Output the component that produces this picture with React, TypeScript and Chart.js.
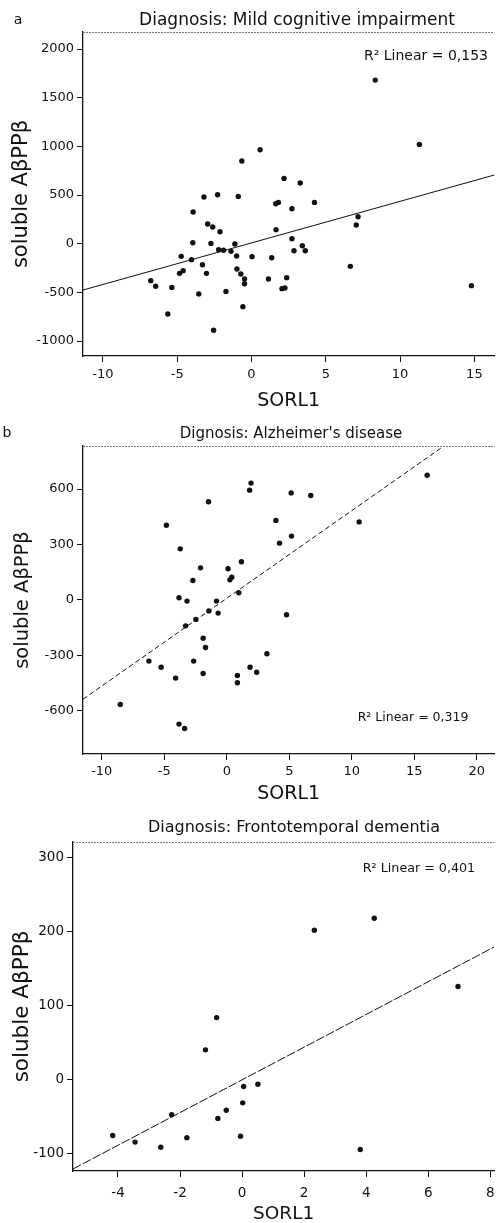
import React, { useEffect, useRef } from "react";
import { Chart, registerables } from "chart.js";
Chart.register(...registerables);

const FONT = "'DejaVu Sans', 'Liberation Sans', sans-serif";
const INK = "#111111";

// ---- Panel a: Mild cognitive impairment ----
const MCI_SORL1 = [8.33, 11.3, -0.65, 0.58, 2.19, 3.28, -3.2, -2.28, -0.89, -3.93, -2.95, -2.61, -2.12, -3.95, -2.73, -2.21, -1.88, -1.38, -1.12, -1.0, -0.98, -0.72, -0.47, -0.47, -0.58, 0.04, 1.63, 1.81, 1.65, 1.36, 1.14, 2.05, 2.25, 2.37, 2.72, 2.72, 2.86, 3.42, 3.62, 4.24, 6.65, 7.05, 7.17, 14.8, -4.73, -4.04, -3.3, -3.03, -4.84, -4.6, -6.78, -6.45, -5.36, -3.55, -1.72, -5.63, -2.55];
const MCI_ABPP = [1681, 1020, 849, 965, 671, 623, 480, 503, 486, 325, 202, 171, 123, 10, 3, -62, -68, -79, -3, -127, -260, -311, -363, -411, -647, -133, 411, 424, 144, -144, -363, -462, -456, -349, 359, 51, -72, -21, -72, 424, -233, 192, 277, -431, -130, -164, -216, -305, -305, -277, -380, -438, -449, -516, -490, -722, -890];
const MCI_FIT = [8, 42.7]; // intercept, slope
const MCI_XTICKS = [-10, -5, 0, 5, 10, 15];
const MCI_YTICKS = [-1000, -500, 0, 500, 1000, 1500, 2000];
const MCI_R2 = "R\u00B2 Linear = 0,153";
const MCI_TITLE = "Diagnosis: Mild cognitive impairment";

// ---- Panel b: Alzheimer's disease ----
const AD_SORL1 = [-4.83, -3.72, -1.46, 1.94, 1.83, 5.15, 6.72, 16.03, 3.93, 4.22, 5.18, 10.59, -2.1, -2.71, 0.1, 1.17, 0.25, 0.4, 0.96, -3.82, -3.18, -0.82, -1.43, -0.69, -2.47, -3.29, 4.78, -1.89, -1.7, 3.21, -6.23, -2.65, -5.25, 1.86, 2.39, -1.89, -4.09, 0.85, 0.85, -8.52, -3.82, -3.37];
const AD_ABPP = [404, 276, 531, 632, 594, 579, 565, 675, 430, 307, 345, 422, 173, 105, 168, 206, 108, 122, 38, 11, -7, -7, -60, -72, -106, -141, -81, -208, -258, -292, -332, -332, -365, -365, -392, -399, -424, -410, -449, -567, -673, -697];
const AD_FIT = [8, 47.5];
const AD_XTICKS = [-10, -5, 0, 5, 10, 15, 20];
const AD_YTICKS = [-600, -300, 0, 300, 600];
const AD_R2 = "R\u00B2 Linear = 0,319";
const AD_TITLE = "Dignosis: Alzheimer's disease";

// ---- Panel c: Frontotemporal dementia ----
const FTD_SORL1 = [2.33, 4.26, 6.96, -0.82, -1.18, 0.05, 0.51, 0.02, -0.51, -0.78, -2.27, -4.17, -3.45, -2.62, -1.78, -0.05, 3.81];
const FTD_ABPP = [202, 218, 126, 84, 40.5, -9, -6, -31, -41, -52, -47, -75, -84, -91, -78, -76, -94];
const FTD_FIT = [0, 22.07];
const FTD_XTICKS = [-4, -2, 0, 2, 4, 6, 8];
const FTD_YTICKS = [-100, 0, 100, 200, 300];
const FTD_R2 = "R\u00B2 Linear = 0,401";
const FTD_TITLE = "Diagnosis: Frontotemporal dementia";

const X_TITLE = "SORL1";
const Y_TITLE = "soluble A\u03B2PP\u03B2";

type Spec = {
  top: number; height: number; padTop: number; yAxisW: number; xAxisH: number;
  xs: number[]; ys: number[]; fit: number[]; xTicks: number[]; yTicks: number[];
  xMin: number; xMax: number; yMin: number; yMax: number;
  dash: number[];
  title: string; titleX: number; titleY: number; titleSize: number;
  letter?: string; letterX?: number; letterY?: number;
  r2: string; r2X: number; r2Y: number; r2Size: number;
  yTitleSize: number; yTitlePad: number; xTitleSize: number; xTitlePad: number;
  tickSize: number; xTickPad: number;
};

const PANELS: Spec[] = [
  {
    top: 0, height: 414, padTop: 32, yAxisW: 83, xAxisH: 58,
    xs: MCI_SORL1, ys: MCI_ABPP, fit: MCI_FIT, xTicks: MCI_XTICKS, yTicks: MCI_YTICKS,
    xMin: -11.34, xMax: 16.34, yMin: -1154, yMax: 2175,
    dash: [],
    title: MCI_TITLE, titleX: 297, titleY: 21, titleSize: 17,
    letter: "a", letterX: 18, letterY: 20,
    r2: MCI_R2, r2X: 426, r2Y: 56, r2Size: 14,
    yTitleSize: 21, yTitlePad: 9.4, xTitleSize: 19, xTitlePad: 1.6, tickSize: 13, xTickPad: 5,
  },
  {
    top: 414, height: 393, padTop: 32, yAxisW: 83, xAxisH: 53,
    xs: AD_SORL1, ys: AD_ABPP, fit: AD_FIT, xTicks: AD_XTICKS, yTicks: AD_YTICKS,
    xMin: -11.5, xMax: 21.4, yMin: -835, yMax: 833,
    dash: [5, 3],
    title: AD_TITLE, titleX: 291, titleY: 20, titleSize: 15,
    letter: "b", letterX: 7, letterY: 19,
    r2: AD_R2, r2X: 413, r2Y: 304, r2Size: 12.5,
    yTitleSize: 19.5, yTitlePad: 10.8, xTitleSize: 19, xTitlePad: 1.6, tickSize: 13, xTickPad: 4,
  },
  {
    top: 807, height: 419, padTop: 35, yAxisW: 73, xAxisH: 55,
    xs: FTD_SORL1, ys: FTD_ABPP, fit: FTD_FIT, xTicks: FTD_XTICKS, yTicks: FTD_YTICKS,
    xMin: -5.45, xMax: 8.13, yMin: -123, yMax: 321,
    dash: [9, 2],
    title: FTD_TITLE, titleX: 294, titleY: 21, titleSize: 16,
    r2: FTD_R2, r2X: 419, r2Y: 62, r2Size: 12.7,
    yTitleSize: 21.5, yTitlePad: 9.6, xTitleSize: 18.5, xTitlePad: 0.9, tickSize: 13.5, xTickPad: 8,
  },
];

function Panel({ spec }: { spec: Spec }) {
  const ref = useRef<HTMLCanvasElement | null>(null);
  useEffect(() => {
    const canvas = ref.current;
    if (!canvas) return;
    const s = spec;
    const points = s.xs.map((x, i) => ({ x, y: s.ys[i] }));
    const fitLine = [s.xMin, s.xMax].map((x) => ({ x, y: s.fit[0] + s.fit[1] * x }));

    const annot = {
      id: "annot",
      afterDraw(chart: any) {
        const { ctx, chartArea } = chart;
        ctx.save();
        ctx.strokeStyle = "#777";
        ctx.lineWidth = 1;
        ctx.setLineDash([2, 1]);
        ctx.beginPath();
        ctx.moveTo(chartArea.left, chartArea.top + 0.5);
        ctx.lineTo(chartArea.right, chartArea.top + 0.5);
        ctx.stroke();
        ctx.setLineDash([]);
        ctx.fillStyle = INK;
        ctx.textBaseline = "middle";
        ctx.textAlign = "center";
        ctx.font = `${s.titleSize}px ${FONT}`;
        ctx.fillText(s.title, s.titleX, s.titleY);
        ctx.font = `${s.r2Size}px ${FONT}`;
        ctx.fillText(s.r2, s.r2X, s.r2Y);
        if (s.letter) {
          ctx.font = `14px ${FONT}`;
          ctx.fillText(s.letter, s.letterX, s.letterY);
        }
        ctx.restore();
      },
    };

    const tickFmt = (v: any) => String(v);

    const chart = new Chart(canvas, {
      type: "scatter",
      data: {
        datasets: [
          {
            type: "scatter",
            data: points,
            backgroundColor: INK,
            borderWidth: 0,
            pointRadius: 2.7,
            pointHoverRadius: 2.7,
          },
          {
            type: "line",
            data: fitLine,
            borderColor: INK,
            borderWidth: 1,
            borderDash: s.dash,
            pointRadius: 0,
            fill: false,
            tension: 0,
          } as any,
        ],
      },
      options: {
        responsive: false,
        animation: false,
        devicePixelRatio: 1,
        layout: { padding: { top: s.padTop, left: 0, right: 0, bottom: 0 } },
        plugins: { legend: { display: false }, tooltip: { enabled: false }, title: { display: false } },
        scales: {
          x: {
            type: "linear",
            min: s.xMin,
            max: s.xMax,
            afterBuildTicks: (sc: any) => { sc.ticks = s.xTicks.map((v) => ({ value: v })); },
            ticks: {
              autoSkip: false, maxRotation: 0,
              color: INK, font: { family: FONT, size: s.tickSize }, padding: s.xTickPad, callback: tickFmt,
            },
            grid: { drawOnChartArea: false, drawTicks: true, tickLength: 6, color: INK, lineWidth: 1 },
            border: { display: true, color: INK, width: 1.3 },
            title: {
              display: true, text: X_TITLE, color: INK,
              font: { family: FONT, size: s.xTitleSize }, padding: { top: 0, bottom: s.xTitlePad },
            },
            afterFit: (sc: any) => {
              sc.height = s.xAxisH;
              sc.paddingLeft = 0; sc.paddingRight = 0; sc.paddingTop = 0; sc.paddingBottom = 0;
            },
          },
          y: {
            type: "linear",
            min: s.yMin,
            max: s.yMax,
            afterBuildTicks: (sc: any) => { sc.ticks = s.yTicks.map((v) => ({ value: v })); },
            ticks: {
              autoSkip: false,
              color: INK, font: { family: FONT, size: s.tickSize }, padding: 3, callback: tickFmt,
            },
            grid: { drawOnChartArea: false, drawTicks: true, tickLength: 6, color: INK, lineWidth: 1 },
            border: { display: true, color: INK, width: 1.3 },
            title: {
              display: true, text: Y_TITLE, color: INK,
              font: { family: FONT, size: s.yTitleSize }, padding: { top: s.yTitlePad, bottom: 0 },
            },
            afterFit: (sc: any) => {
              sc.width = s.yAxisW;
              sc.paddingLeft = 0; sc.paddingRight = 0; sc.paddingTop = 0; sc.paddingBottom = 0;
            },
          },
        },
      } as any,
      plugins: [annot as any],
    });
    return () => chart.destroy();
  }, [spec]);

  return (
    <canvas
      ref={ref}
      width={497}
      height={spec.height}
      style={{ position: "absolute", left: 0, top: spec.top, width: 497, height: spec.height, display: "block" }}
    />
  );
}

export default function App() {
  return (
    <div
      style={{
        position: "fixed", left: 0, top: 0, width: 497, height: 1223,
        overflow: "hidden", background: "#ffffff",
      }}
    >
      {PANELS.map((p, i) => (
        <Panel key={i} spec={p} />
      ))}
    </div>
  );
}
